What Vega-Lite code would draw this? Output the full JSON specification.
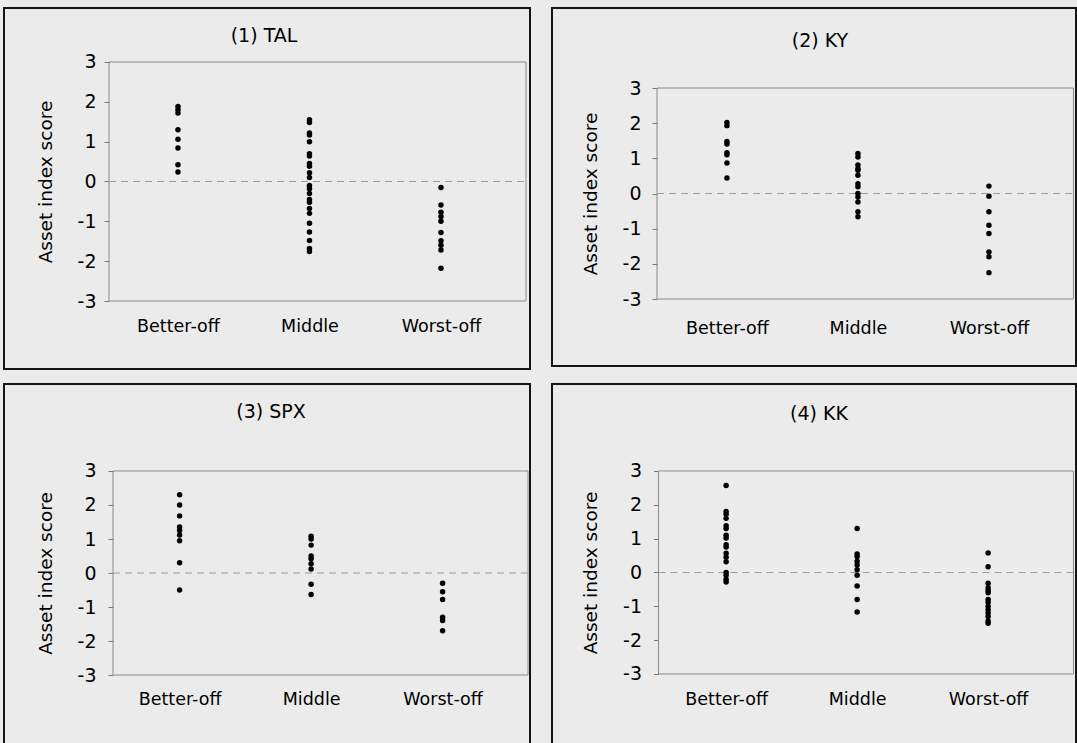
{
  "$schema": "https://vega.github.io/schema/vega-lite/v6.json",
  "background": "#ebebeb",
  "padding": {"left": 3, "top": 7, "right": 0, "bottom": 0},
  "autosize": {"type": "pad"},
  "bounds": "flush",
  "columns": 2,
  "spacing": {"row": 15, "column": 22},
  "config": {
    "font": "DejaVu Sans",
    "view": {"stroke": "#151515", "strokeWidth": 2, "fill": null},
    "title": {"fontSize": 19, "fontWeight": "normal", "color": "#000", "frame": "group", "anchor": "middle"},
    "axis": {"grid": false, "labelColor": "#000", "titleColor": "#000", "titleFontWeight": "normal", "domain": false}
  },
  "datasets": {
    "scores": [
      {"panel": "TAL", "group": "Better-off", "score": 1.88},
      {"panel": "TAL", "group": "Better-off", "score": 1.8},
      {"panel": "TAL", "group": "Better-off", "score": 1.72},
      {"panel": "TAL", "group": "Better-off", "score": 1.3},
      {"panel": "TAL", "group": "Better-off", "score": 1.06},
      {"panel": "TAL", "group": "Better-off", "score": 0.84},
      {"panel": "TAL", "group": "Better-off", "score": 0.42},
      {"panel": "TAL", "group": "Better-off", "score": 0.24},
      {"panel": "TAL", "group": "Middle", "score": 1.55},
      {"panel": "TAL", "group": "Middle", "score": 1.48},
      {"panel": "TAL", "group": "Middle", "score": 1.22},
      {"panel": "TAL", "group": "Middle", "score": 1.17},
      {"panel": "TAL", "group": "Middle", "score": 1.0},
      {"panel": "TAL", "group": "Middle", "score": 0.7},
      {"panel": "TAL", "group": "Middle", "score": 0.64},
      {"panel": "TAL", "group": "Middle", "score": 0.45},
      {"panel": "TAL", "group": "Middle", "score": 0.38},
      {"panel": "TAL", "group": "Middle", "score": 0.22},
      {"panel": "TAL", "group": "Middle", "score": 0.1},
      {"panel": "TAL", "group": "Middle", "score": -0.1},
      {"panel": "TAL", "group": "Middle", "score": -0.18},
      {"panel": "TAL", "group": "Middle", "score": -0.3},
      {"panel": "TAL", "group": "Middle", "score": -0.45},
      {"panel": "TAL", "group": "Middle", "score": -0.52},
      {"panel": "TAL", "group": "Middle", "score": -0.68},
      {"panel": "TAL", "group": "Middle", "score": -0.8},
      {"panel": "TAL", "group": "Middle", "score": -1.05},
      {"panel": "TAL", "group": "Middle", "score": -1.27},
      {"panel": "TAL", "group": "Middle", "score": -1.48},
      {"panel": "TAL", "group": "Middle", "score": -1.68},
      {"panel": "TAL", "group": "Middle", "score": -1.76},
      {"panel": "TAL", "group": "Worst-off", "score": -0.15},
      {"panel": "TAL", "group": "Worst-off", "score": -0.59},
      {"panel": "TAL", "group": "Worst-off", "score": -0.77},
      {"panel": "TAL", "group": "Worst-off", "score": -0.88},
      {"panel": "TAL", "group": "Worst-off", "score": -1.0},
      {"panel": "TAL", "group": "Worst-off", "score": -1.28},
      {"panel": "TAL", "group": "Worst-off", "score": -1.49},
      {"panel": "TAL", "group": "Worst-off", "score": -1.6},
      {"panel": "TAL", "group": "Worst-off", "score": -1.72},
      {"panel": "TAL", "group": "Worst-off", "score": -2.18},
      {"panel": "KY", "group": "Better-off", "score": 2.02},
      {"panel": "KY", "group": "Better-off", "score": 1.93},
      {"panel": "KY", "group": "Better-off", "score": 1.48},
      {"panel": "KY", "group": "Better-off", "score": 1.41},
      {"panel": "KY", "group": "Better-off", "score": 1.16},
      {"panel": "KY", "group": "Better-off", "score": 1.1},
      {"panel": "KY", "group": "Better-off", "score": 0.87},
      {"panel": "KY", "group": "Better-off", "score": 0.44},
      {"panel": "KY", "group": "Middle", "score": 1.14},
      {"panel": "KY", "group": "Middle", "score": 1.04},
      {"panel": "KY", "group": "Middle", "score": 0.81},
      {"panel": "KY", "group": "Middle", "score": 0.71},
      {"panel": "KY", "group": "Middle", "score": 0.66},
      {"panel": "KY", "group": "Middle", "score": 0.52},
      {"panel": "KY", "group": "Middle", "score": 0.28},
      {"panel": "KY", "group": "Middle", "score": 0.19},
      {"panel": "KY", "group": "Middle", "score": 0.0},
      {"panel": "KY", "group": "Middle", "score": -0.1},
      {"panel": "KY", "group": "Middle", "score": -0.24},
      {"panel": "KY", "group": "Middle", "score": -0.52},
      {"panel": "KY", "group": "Middle", "score": -0.66},
      {"panel": "KY", "group": "Worst-off", "score": 0.21},
      {"panel": "KY", "group": "Worst-off", "score": -0.08},
      {"panel": "KY", "group": "Worst-off", "score": -0.52},
      {"panel": "KY", "group": "Worst-off", "score": -0.9},
      {"panel": "KY", "group": "Worst-off", "score": -1.14},
      {"panel": "KY", "group": "Worst-off", "score": -1.66},
      {"panel": "KY", "group": "Worst-off", "score": -1.8},
      {"panel": "KY", "group": "Worst-off", "score": -2.25},
      {"panel": "SPX", "group": "Better-off", "score": 2.3},
      {"panel": "SPX", "group": "Better-off", "score": 2.0},
      {"panel": "SPX", "group": "Better-off", "score": 1.68},
      {"panel": "SPX", "group": "Better-off", "score": 1.35},
      {"panel": "SPX", "group": "Better-off", "score": 1.25},
      {"panel": "SPX", "group": "Better-off", "score": 1.12},
      {"panel": "SPX", "group": "Better-off", "score": 0.95},
      {"panel": "SPX", "group": "Better-off", "score": 0.3},
      {"panel": "SPX", "group": "Better-off", "score": -0.5},
      {"panel": "SPX", "group": "Middle", "score": 1.08},
      {"panel": "SPX", "group": "Middle", "score": 1.0},
      {"panel": "SPX", "group": "Middle", "score": 0.82},
      {"panel": "SPX", "group": "Middle", "score": 0.5},
      {"panel": "SPX", "group": "Middle", "score": 0.42},
      {"panel": "SPX", "group": "Middle", "score": 0.27},
      {"panel": "SPX", "group": "Middle", "score": 0.12},
      {"panel": "SPX", "group": "Middle", "score": -0.33},
      {"panel": "SPX", "group": "Middle", "score": -0.63},
      {"panel": "SPX", "group": "Worst-off", "score": -0.3},
      {"panel": "SPX", "group": "Worst-off", "score": -0.55},
      {"panel": "SPX", "group": "Worst-off", "score": -0.78},
      {"panel": "SPX", "group": "Worst-off", "score": -1.3},
      {"panel": "SPX", "group": "Worst-off", "score": -1.4},
      {"panel": "SPX", "group": "Worst-off", "score": -1.7},
      {"panel": "KK", "group": "Better-off", "score": 2.57},
      {"panel": "KK", "group": "Better-off", "score": 1.8},
      {"panel": "KK", "group": "Better-off", "score": 1.72},
      {"panel": "KK", "group": "Better-off", "score": 1.6},
      {"panel": "KK", "group": "Better-off", "score": 1.38},
      {"panel": "KK", "group": "Better-off", "score": 1.3},
      {"panel": "KK", "group": "Better-off", "score": 1.1},
      {"panel": "KK", "group": "Better-off", "score": 1.02},
      {"panel": "KK", "group": "Better-off", "score": 0.82},
      {"panel": "KK", "group": "Better-off", "score": 0.75},
      {"panel": "KK", "group": "Better-off", "score": 0.57},
      {"panel": "KK", "group": "Better-off", "score": 0.45},
      {"panel": "KK", "group": "Better-off", "score": 0.32},
      {"panel": "KK", "group": "Better-off", "score": 0.0},
      {"panel": "KK", "group": "Better-off", "score": -0.08},
      {"panel": "KK", "group": "Better-off", "score": -0.2},
      {"panel": "KK", "group": "Better-off", "score": -0.28},
      {"panel": "KK", "group": "Middle", "score": 1.3},
      {"panel": "KK", "group": "Middle", "score": 0.55},
      {"panel": "KK", "group": "Middle", "score": 0.47},
      {"panel": "KK", "group": "Middle", "score": 0.33},
      {"panel": "KK", "group": "Middle", "score": 0.22},
      {"panel": "KK", "group": "Middle", "score": 0.08},
      {"panel": "KK", "group": "Middle", "score": -0.08},
      {"panel": "KK", "group": "Middle", "score": -0.4},
      {"panel": "KK", "group": "Middle", "score": -0.8},
      {"panel": "KK", "group": "Middle", "score": -1.17},
      {"panel": "KK", "group": "Worst-off", "score": 0.58},
      {"panel": "KK", "group": "Worst-off", "score": 0.17},
      {"panel": "KK", "group": "Worst-off", "score": -0.32},
      {"panel": "KK", "group": "Worst-off", "score": -0.45},
      {"panel": "KK", "group": "Worst-off", "score": -0.53},
      {"panel": "KK", "group": "Worst-off", "score": -0.6},
      {"panel": "KK", "group": "Worst-off", "score": -0.8},
      {"panel": "KK", "group": "Worst-off", "score": -0.88},
      {"panel": "KK", "group": "Worst-off", "score": -1.0},
      {"panel": "KK", "group": "Worst-off", "score": -1.1},
      {"panel": "KK", "group": "Worst-off", "score": -1.2},
      {"panel": "KK", "group": "Worst-off", "score": -1.3},
      {"panel": "KK", "group": "Worst-off", "score": -1.43},
      {"panel": "KK", "group": "Worst-off", "score": -1.5}
    ]
  },
  "concat": [
    {
      "width": 526, "height": 361,
      "title": {"text": "(1) TAL", "offset": -38, "dx": -3},
      "layer": [
        {
          "data": {"values": [{}]},
          "mark": {"type": "rect", "fill": null, "stroke": "#8a8a8a", "strokeWidth": 1},
          "encoding": {
            "x": {"datum": 0, "type": "quantitative", "scale": {"domain": [-1.0072, 4.0384], "nice": false, "zero": false}, "axis": null},
            "x2": {"datum": 4},
            "y": {"datum": -3, "type": "quantitative"},
            "y2": {"datum": 3}
          }
        },
        {
          "data": {"values": [{}]},
          "mark": {"type": "rule", "stroke": "#9a9a9a", "strokeWidth": 1.2, "strokeDash": [7, 5]},
          "encoding": {
            "x": {"datum": 0, "type": "quantitative", "scale": {"domain": [-1.0072, 4.0384], "nice": false, "zero": false}, "axis": null},
            "x2": {"datum": 4},
            "y": {"datum": 0, "type": "quantitative"}
          }
        },
        {
          "data": {"name": "scores"},
          "transform": [{"filter": "datum.panel === 'TAL'"}],
          "mark": {"type": "circle", "size": 30, "color": "#000", "opacity": 1},
          "encoding": {
            "x": {"field": "group", "type": "nominal", "scale": {"type": "point", "domain": ["Better-off", "Middle", "Worst-off"], "padding": 1.578, "align": 0.6615},
                  "axis": {"title": null, "orient": "bottom", "offset": -68, "ticks": false, "tickSize": 0, "labelPadding": 25, "labelBaseline": "middle", "labelFontSize": 17.5, "labelAngle": 0}},
            "y": {"field": "score", "type": "quantitative", "scale": {"domain": [-4.7071, 4.3556], "nice": false, "zero": false},
                  "axis": {"title": "Asset index score", "values": [-3, -2, -1, 0, 1, 2, 3], "labelExpr": "datum.value < 0 ? '-' + abs(datum.value) : '' + datum.value", "offset": -105, "tickSize": 5, "tickColor": "#777", "labelPadding": 8, "labelFontSize": 19, "titleFontSize": 18.5, "titlePadding": 22, "titleY": 173.5}}
          }
        }
      ],
      "resolve": {"scale": {"x": "independent"}, "axis": {"x": "independent"}}
    },
    {
      "width": 524, "height": 358,
      "title": {"text": "(2) KY", "offset": -43, "dx": 6},
      "layer": [
        {
          "data": {"values": [{}]},
          "mark": {"type": "rect", "fill": null, "stroke": "#8a8a8a", "strokeWidth": 1},
          "encoding": {
            "x": {"datum": 0, "type": "quantitative", "scale": {"domain": [-1.0084, 4.024], "nice": false, "zero": false}, "axis": null},
            "x2": {"datum": 4},
            "y": {"datum": -3, "type": "quantitative"},
            "y2": {"datum": 3}
          }
        },
        {
          "data": {"values": [{}]},
          "mark": {"type": "rule", "stroke": "#9a9a9a", "strokeWidth": 1.2, "strokeDash": [7, 5]},
          "encoding": {
            "x": {"datum": 0, "type": "quantitative", "scale": {"domain": [-1.0084, 4.024], "nice": false, "zero": false}, "axis": null},
            "x2": {"datum": 4},
            "y": {"datum": 0, "type": "quantitative"}
          }
        },
        {
          "data": {"name": "scores"},
          "transform": [{"filter": "datum.panel === 'KY'"}],
          "mark": {"type": "circle", "size": 30, "color": "#000", "opacity": 1},
          "encoding": {
            "x": {"field": "group", "type": "nominal", "scale": {"type": "point", "domain": ["Better-off", "Middle", "Worst-off"], "padding": 1.519, "align": 0.6677},
                  "axis": {"title": null, "orient": "bottom", "offset": -67, "ticks": false, "tickSize": 0, "labelPadding": 29, "labelBaseline": "middle", "labelFontSize": 17.5, "labelAngle": 0}},
            "y": {"field": "score", "type": "quantitative", "scale": {"domain": [-4.9052, 5.2749], "nice": false, "zero": false},
                  "axis": {"title": "Asset index score", "values": [-3, -2, -1, 0, 1, 2, 3], "labelExpr": "datum.value < 0 ? '-' + abs(datum.value) : '' + datum.value", "offset": -105, "tickSize": 5, "tickColor": "#777", "labelPadding": 11, "labelFontSize": 19, "titleFontSize": 18.5, "titlePadding": 22, "titleY": 185.5}}
          }
        }
      ],
      "resolve": {"scale": {"x": "independent"}, "axis": {"x": "independent"}}
    },
    {
      "width": 526, "height": 362,
      "title": {"text": "(3) SPX", "offset": -38, "dx": 4},
      "layer": [
        {
          "data": {"values": [{}]},
          "mark": {"type": "rect", "fill": null, "stroke": "#8a8a8a", "strokeWidth": 1},
          "encoding": {
            "x": {"datum": 0, "type": "quantitative", "scale": {"domain": [-1.0506, 4.0193], "nice": false, "zero": false}, "axis": null},
            "x2": {"datum": 4},
            "y": {"datum": -3, "type": "quantitative"},
            "y2": {"datum": 3}
          }
        },
        {
          "data": {"values": [{}]},
          "mark": {"type": "rule", "stroke": "#9a9a9a", "strokeWidth": 1.2, "strokeDash": [7, 5]},
          "encoding": {
            "x": {"datum": 0, "type": "quantitative", "scale": {"domain": [-1.0506, 4.0193], "nice": false, "zero": false}, "axis": null},
            "x2": {"datum": 4},
            "y": {"datum": 0, "type": "quantitative"}
          }
        },
        {
          "data": {"name": "scores"},
          "transform": [{"filter": "datum.panel === 'SPX'"}],
          "mark": {"type": "circle", "size": 30, "color": "#000", "opacity": 1},
          "encoding": {
            "x": {"field": "group", "type": "nominal", "scale": {"type": "point", "domain": ["Better-off", "Middle", "Worst-off"], "padding": 1.541, "align": 0.6677},
                  "axis": {"title": null, "orient": "bottom", "offset": -71, "ticks": false, "tickSize": 0, "labelPadding": 24, "labelBaseline": "middle", "labelFontSize": 17.5, "labelAngle": 0}},
            "y": {"field": "score", "type": "quantitative", "scale": {"domain": [-5.0882, 5.5588], "nice": false, "zero": false},
                  "axis": {"title": "Asset index score", "values": [-3, -2, -1, 0, 1, 2, 3], "labelExpr": "datum.value < 0 ? '-' + abs(datum.value) : '' + datum.value", "offset": -109, "tickSize": 5, "tickColor": "#777", "labelPadding": 12, "labelFontSize": 19, "titleFontSize": 18.5, "titlePadding": 22, "titleY": 189}}
          }
        }
      ],
      "resolve": {"scale": {"x": "independent"}, "axis": {"x": "independent"}}
    },
    {
      "width": 524, "height": 362,
      "title": {"text": "(4) KK", "offset": -40, "dx": 5},
      "layer": [
        {
          "data": {"values": [{}]},
          "mark": {"type": "rect", "fill": null, "stroke": "#8a8a8a", "strokeWidth": 1},
          "encoding": {
            "x": {"datum": 0, "type": "quantitative", "scale": {"domain": [-1.0265, 4.0241], "nice": false, "zero": false}, "axis": null},
            "x2": {"datum": 4},
            "y": {"datum": -3, "type": "quantitative"},
            "y2": {"datum": 3}
          }
        },
        {
          "data": {"values": [{}]},
          "mark": {"type": "rule", "stroke": "#9a9a9a", "strokeWidth": 1.2, "strokeDash": [7, 5]},
          "encoding": {
            "x": {"datum": 0, "type": "quantitative", "scale": {"domain": [-1.0265, 4.0241], "nice": false, "zero": false}, "axis": null},
            "x2": {"datum": 4},
            "y": {"datum": 0, "type": "quantitative"}
          }
        },
        {
          "data": {"name": "scores"},
          "transform": [{"filter": "datum.panel === 'KK'"}],
          "mark": {"type": "circle", "size": 30, "color": "#000", "opacity": 1},
          "encoding": {
            "x": {"field": "group", "type": "nominal", "scale": {"type": "point", "domain": ["Better-off", "Middle", "Worst-off"], "padding": 1.519, "align": 0.6646},
                  "axis": {"title": null, "orient": "bottom", "offset": -72, "ticks": false, "tickSize": 0, "labelPadding": 25, "labelBaseline": "middle", "labelFontSize": 17.5, "labelAngle": 0}},
            "y": {"field": "score", "type": "quantitative", "scale": {"domain": [-5.1281, 5.5714], "nice": false, "zero": false},
                  "axis": {"title": "Asset index score", "values": [-3, -2, -1, 0, 1, 2, 3], "labelExpr": "datum.value < 0 ? '-' + abs(datum.value) : '' + datum.value", "offset": -106.5, "tickSize": 5, "tickColor": "#777", "labelPadding": 12, "labelFontSize": 19, "titleFontSize": 18.5, "titlePadding": 22, "titleY": 188.5}}
          }
        }
      ],
      "resolve": {"scale": {"x": "independent"}, "axis": {"x": "independent"}}
    }
  ]
}
